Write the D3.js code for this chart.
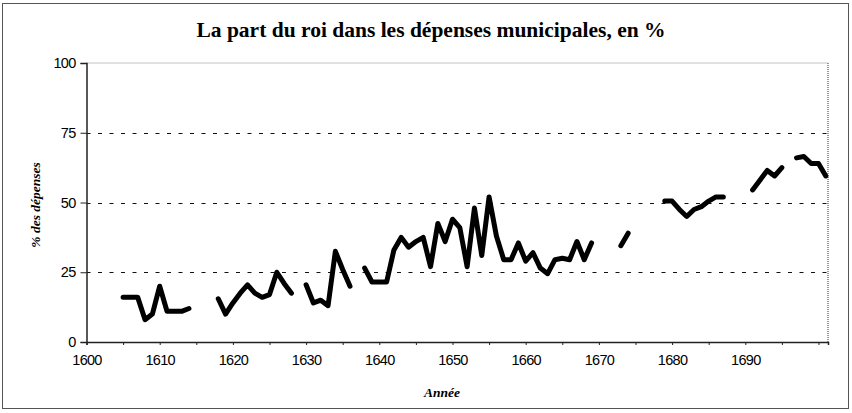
<!DOCTYPE html>
<html><head><meta charset="utf-8">
<script src="https://cdn.jsdelivr.net/npm/d3@7/dist/d3.min.js"></script>
<style>body{margin:0;background:#fff}svg{display:block}</style>
</head><body><svg id="c" width="852" height="413"></svg>
<script>
const title = "La part du roi dans les dépenses municipales, en %";
const xTitle = "Année";
const yTitle = "% des dépenses";
const xTickLabels = [1600,1610,1620,1630,1640,1650,1660,1670,1680,1690];
const yTickLabels = [0,25,50,75,100];
const years = d3.range(1600, 1702);
const pct = [
  null,null,null,null,null,16,16,16,8,10,            // 1600-1609
  20,11,11,11,12,null,null,null,15.5,10,             // 1610-1619
  14,17.5,20.5,17.5,16,17,25,21,17.5,null,           // 1620-1629
  20.5,14,15,13,32.5,26,20,null,26.5,21.5,           // 1630-1639
  21.5,21.5,33,37.5,34,36,37.5,27,42.5,36,           // 1640-1649
  44,41,27,48,31,52,38,29.5,29.5,35.5,               // 1650-1659
  29,32,26.5,24.5,29.5,30,29.5,36,29.5,35.5,         // 1660-1669
  null,null,null,34.5,39,null,null,null,null,50.5,   // 1670-1679
  50.5,47.5,45,47.5,48.5,50.5,52,52,null,null,       // 1680-1689
  null,54.5,58,61.5,59.5,62.5,null,66,66.5,64,       // 1690-1699
  64,59.5                                            // 1700-1701
];
const data = years.map((y,i)=>({year:y, v:pct[i]}));

const svg = d3.select("#c");
const L = 86.5, R = 828, T = 63, B = 342;
const x = d3.scaleLinear().domain([1600, 1701.3]).range([L, R]);
const y = d3.scaleLinear().domain([0, 100]).range([B, T]);

// outer frame
svg.append("rect").attr("x",2.5).attr("y",3.5).attr("width",846).attr("height",405)
  .attr("fill","none").attr("stroke","#555").attr("stroke-width",1);

// title
svg.append("text").attr("x",431).attr("y",37).attr("text-anchor","middle")
  .attr("font-family","Liberation Serif, Times New Roman, serif").attr("font-weight","bold")
  .attr("font-size",21.5).text(title);

// plot border top/right dotted
svg.append("line").attr("x1",L).attr("x2",R).attr("y1",T).attr("y2",T)
  .attr("stroke","#888").attr("stroke-width",1).attr("stroke-dasharray","1,1");
svg.append("line").attr("x1",R).attr("x2",R).attr("y1",T).attr("y2",B)
  .attr("stroke","#777").attr("stroke-width",1.5).attr("stroke-dasharray","1,1");

// gridlines
svg.append("g").selectAll("line").data([25,50,75]).join("line")
  .attr("x1",L).attr("x2",R).attr("y1",d=>Math.round(y(d))+0.5).attr("y2",d=>Math.round(y(d))+0.5)
  .attr("stroke","#111").attr("stroke-width",1).attr("stroke-dasharray","4,7.5");

// y axis
const ya = svg.append("g").attr("transform",`translate(${L},0)`)
  .call(d3.axisLeft(y).tickValues(yTickLabels).tickSize(6).tickPadding(5));
ya.select(".domain").attr("stroke","#222").attr("stroke-width",1.5);
ya.selectAll(".tick line").attr("stroke","#222");
ya.selectAll("text").attr("font-family","Liberation Sans, Arial, sans-serif")
  .attr("font-size",14.5).attr("letter-spacing","-0.7").attr("fill","#000");

// x axis
const xa = svg.append("g").attr("transform",`translate(0,${B})`)
  .call(d3.axisBottom(x).tickValues(d3.range(1600,1701,5)).tickSize(3).tickPadding(10)
    .tickFormat(d => xTickLabels.includes(d) ? d : ""));
xa.select(".domain").attr("stroke","#222").attr("stroke-width",1.5);
xa.selectAll(".tick line").attr("stroke","#222");
xa.selectAll("text").attr("font-family","Liberation Sans, Arial, sans-serif")
  .attr("font-size",14.5).attr("letter-spacing","-0.7").attr("fill","#000");

// axis titles
svg.append("text").attr("x",442).attr("y",397).attr("text-anchor","middle")
  .attr("font-family","Liberation Serif, Times New Roman, serif").attr("font-weight","bold")
  .attr("font-style","italic").attr("font-size",13.5).text(xTitle);
svg.append("text").attr("transform","translate(40,205) rotate(-90)").attr("text-anchor","middle")
  .attr("font-family","Liberation Serif, Times New Roman, serif").attr("font-weight","bold")
  .attr("font-style","italic").attr("font-size",13.5).attr("fill","#000").text(yTitle);

// data line
const line = d3.line().defined(d=>d.v!==null).x(d=>x(d.year)).y(d=>y(d.v));
svg.append("path").datum(data).attr("d",line).attr("fill","none")
  .attr("stroke","#000").attr("stroke-width",5).attr("stroke-linejoin","round")
  .attr("stroke-linecap","round");
</script></body></html>
